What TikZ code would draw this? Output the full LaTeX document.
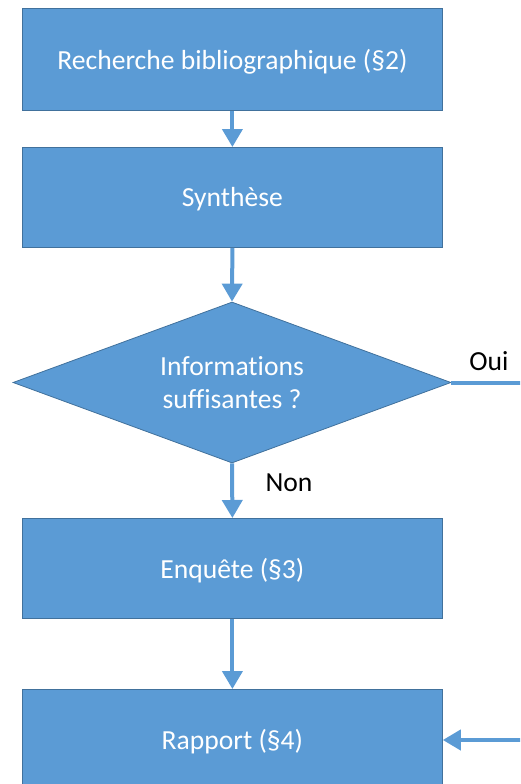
\documentclass[tikz,border=0pt]{standalone}
\usepackage{fontspec}
\setmainfont[Ligatures=NoCommon]{Carlito}
\usetikzlibrary{shapes.geometric,arrows.meta}
\definecolor{boxfill}{HTML}{5B9BD5}
\definecolor{boxline}{HTML}{41719C}
\begin{document}
\begin{tikzpicture}[x=1pt,y=-1pt,
  stepbox/.style={draw=boxline,line width=0.8pt,fill=boxfill,text=white,
    minimum width=420pt,minimum height=100pt,inner sep=0pt,anchor=north west,
    text depth=0pt,font=\fontsize{27.6}{33}\selectfont},
  decisionbox/.style={diamond,draw=boxline,line width=0.8pt,fill=boxfill,text=white,
    minimum width=438pt,minimum height=161pt,aspect=2.72,inner sep=0pt,align=center,
    font=\fontsize{27.6}{33}\selectfont},
  flow/.style={draw=boxfill,line width=4pt,-{Triangle[width=20pt,length=18pt]}},
  flowline/.style={draw=boxfill,line width=4pt},
  lbl/.style={text=black,font=\fontsize{27.6}{33}\selectfont,inner sep=0pt}]
\useasboundingbox (0,0) rectangle (520,784);
\clip (0,0) rectangle (520,784);
\node[stepbox,minimum height=102pt] (b1) at (22,8) {Recherche bibliographique (§2)};
\node[stepbox] (b2) at (22,147) {Synthèse};
\node[decisionbox] (d) at (232,382.5) {Informations\\suffisantes ?};
\node[stepbox] (b3) at (22,518) {Enquête (§3)};
\node[stepbox] (b4) at (22,689) {Rapport (§4)};
\coordinate (ouiend) at (522,382.5);
\coordinate (retstart) at (522,740);
\draw[flow] (b1.south) -- (b2.north);
\draw[flow] (b2.south) -- (d.north);
\draw[flow] (d.south) -- (b3.north);
\draw[flow] (b3.south) -- (b4.north);
\draw[flowline] (d.east) -- (ouiend);
\draw[flow] (retstart) -- (b4.east |- retstart);
\node[lbl] (oui) at (489,361) {Oui};
\node[lbl] (non) at (289,483) {Non};
\end{tikzpicture}
\end{document}
